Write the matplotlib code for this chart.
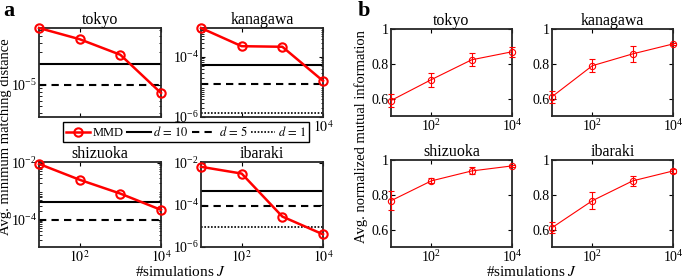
import numpy as np
import matplotlib
matplotlib.use("Agg")
import matplotlib.pyplot as plt
from matplotlib import font_manager
from matplotlib.lines import Line2D

# buscar una fuente tipo Times instalada
nombres = {f.name for f in font_manager.fontManager.ttflist}
serif = [n for n in ['Liberation Serif', 'Nimbus Roman', 'DejaVu Serif'] if n in nombres]
plt.rcParams['font.family'] = serif + ['DejaVu Sans']
plt.rcParams['mathtext.fontset'] = 'stix'
plt.rcParams['font.size'] = 10

# datos
prefecturas = ['tokyo', 'kanagawa', 'shizuoka', 'ibaraki']
J = [10, 100, 1000, 10000]

# panel a: distancia minima promedio (MMD) y referencias d = 10, 5, 1
mmd_tokyo = [6.5e-5, 4.5e-5, 2.7e-5, 7.7e-6]
mmd_kanagawa = [9.3e-4, 2.3e-4, 2.2e-4, 1.6e-5]
mmd_shizuoka = [9.0e-3, 2.5e-3, 8.2e-4, 2.2e-4]
mmd_ibaraki = [6.5e-3, 3.1e-3, 2.8e-5, 4.0e-6]
d10 = [2.0e-5, 5.4e-5, 4.0e-4, 4.5e-4]
d5 = [1.0e-5, 1.26e-5, 1.0e-4, 9.0e-5]
d1 = [3.0e-6, 1.36e-6, 9.0e-6, 8.5e-6]
ylims_a = [(3.5e-6, 6.5e-5), (1.0e-6, 9.3e-4), (1.1e-5, 1.05e-2), (1.1e-6, 1.1e-2)]
yticks_a = [[1e-5], [1e-6, 1e-4], [1e-4, 1e-2], [1e-6, 1e-4, 1e-2]]
# etiquetas x visibles en la fila superior (el resto queda tapado por la leyenda)
xlabels_a = [['', ''], ['', '$10^{4}$'], ['$10^{2}$', '$10^{4}$'], ['$10^{2}$', '$10^{4}$']]

# panel b: informacion mutua normalizada promedio
nmi_tokyo = [0.589, 0.709, 0.823, 0.869]
nmi_kanagawa = [0.611, 0.789, 0.857, 0.914]
nmi_shizuoka = [0.766, 0.880, 0.937, 0.966]
nmi_ibaraki = [0.611, 0.766, 0.880, 0.937]
err_tokyo = [0.035, 0.040, 0.037, 0.028]
err_kanagawa = [0.035, 0.037, 0.048, 0.008]
err_shizuoka = [0.054, 0.015, 0.020, 0.005]
err_ibaraki = [0.030, 0.050, 0.030, 0.010]

mmd = [mmd_tokyo, mmd_kanagawa, mmd_shizuoka, mmd_ibaraki]
nmi = [nmi_tokyo, nmi_kanagawa, nmi_shizuoka, nmi_ibaraki]
err = [err_tokyo, err_kanagawa, err_shizuoka, err_ibaraki]

W, H = 685, 280
fig = plt.figure(figsize=(W / 100, H / 100), dpi=100)


def caja(x0, y0, x1, y1):
    # posicion en pixeles -> fraccion de figura
    return fig.add_axes([x0 / W, 1 - y1 / H, (x1 - x0) / W, (y1 - y0) / H])


def estilo(ax):
    for s in ax.spines.values():
        s.set_linewidth(1.3)
        s.set_color('#262626')
    ax.tick_params(which='both', direction='in', top=True, right=True,
                   labelsize=10, pad=1.5)
    ax.tick_params(which='major', length=3, width=0.8)
    ax.tick_params(which='minor', length=1.8, width=0.6)
    ax.set_xscale('log')
    ax.set_xlim(10, 1e4)
    ax.set_xticks([1e2, 1e4])


pos_a = [(39, 28, 161, 117), (201, 28, 323, 117), (39, 162, 161, 247), (201, 162, 323, 247)]
pos_b = [(391, 29, 512, 116), (552, 29, 673, 116), (391, 160, 512, 247), (552, 160, 673, 247)]

for i in range(4):
    ax = caja(*pos_a[i])
    ax.set_yscale('log')
    ax.axhline(d10[i], color='k', lw=1.5)
    ax.axhline(d5[i], color='k', lw=1.5, ls=(0, (3.5, 2.5)))
    ax.axhline(d1[i], color='k', lw=1.2, ls=(0, (1, 1)))
    ax.plot(J, mmd[i], '-o', color='red', lw=1.8, ms=6, mfc='none', mew=1.5,
            clip_on=False, zorder=5)
    estilo(ax)
    ax.set_xticklabels(xlabels_a[i])
    ax.set_ylim(*ylims_a[i])
    ax.set_yticks(yticks_a[i])
    ax.set_title(prefecturas[i], fontsize=11.5, pad=3)

for i in range(4):
    ax = caja(*pos_b[i])
    ax.errorbar(J, nmi[i], yerr=err[i], fmt='-o', color='red', lw=0.8, ms=4.5,
                mfc='none', mew=0.8, capsize=2.5, elinewidth=0.8, clip_on=False, zorder=5)
    estilo(ax)
    ax.set_ylim(0.5, 1)
    ax.set_yticks([0.6, 0.8, 1])
    ax.set_yticklabels(['0.6', '0.8', '1'])
    ax.set_title(prefecturas[i], fontsize=11.5, pad=3)

# leyenda compartida
handles = [
    Line2D([], [], color='red', lw=1.8, marker='o', ms=6, mfc='none', mew=1.5),
    Line2D([], [], color='k', lw=1.5),
    Line2D([], [], color='k', lw=1.5, ls=(0, (3.5, 2.5))),
    Line2D([], [], color='k', lw=1.2, ls=(0, (1, 1))),
]
labels = ['MMD', '$d\\, =\\, 10$', '$d\\, =\\, 5$', '$d\\, =\\, 1$']
leg = fig.legend(handles, labels, ncol=4, loc='center', bbox_to_anchor=(186 / W, 1 - 132 / H),
                 frameon=True, fancybox=False, edgecolor='k', framealpha=1, fontsize=9,
                 handlelength=1.9, handletextpad=0.2, columnspacing=0.3,
                 borderpad=0.25, borderaxespad=0)
leg.get_frame().set_linewidth(1.0)

fig.text(6 / W, 1 - 137 / H, 'Avg. minimum matching distance', rotation=90,
         ha='center', va='center', fontsize=10.5)
fig.text(361 / W, 1 - 137 / H, 'Avg. normalized mutual information', rotation=90,
         ha='center', va='center', fontsize=10.5)
fig.text(181 / W, 1 / H, '#simulations $J$', ha='center', va='bottom', fontsize=11)
fig.text(532 / W, 1 / H, '#simulations $J$', ha='center', va='bottom', fontsize=11)
fig.text(3 / W, 1 - 11 / H, 'a', fontsize=16, fontweight='bold', ha='left', va='center')
fig.text(358 / W, 1 - 11 / H, 'b', fontsize=16, fontweight='bold', ha='left', va='center')

fig.savefig('out.png', dpi=100)
